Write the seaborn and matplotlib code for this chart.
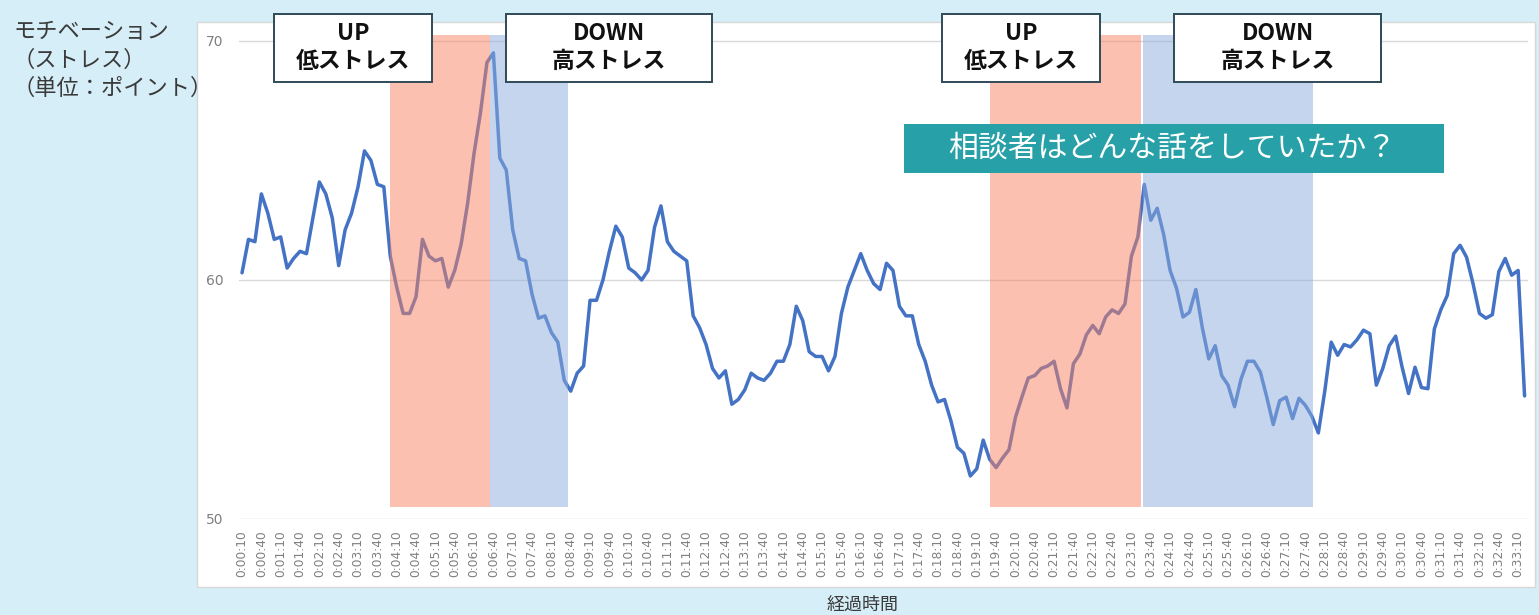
import numpy as np
import pandas as pd
import seaborn as sns
import matplotlib.pyplot as plt
from matplotlib.patches import Rectangle

# motivation (stress) score, one sample every 10 s from 0:00:10
score_00_08 = [60.3, 61.7, 61.6, 63.6, 62.8, 61.7, 61.8, 60.5, 60.9, 61.2,
               61.1, 62.6, 64.1, 63.6, 62.6, 60.6, 62.1, 62.8, 63.9, 65.4,
               65.0, 64.0, 63.9, 61.0, 59.7, 58.6, 58.6, 59.3, 61.7, 61.0,
               60.8, 60.9, 59.7, 60.4, 61.5, 63.2, 65.3, 67.0, 69.1, 69.5,
               65.1, 64.6, 62.1, 60.9, 60.8, 59.4, 58.4, 58.5, 57.8, 57.4]
score_08_16 = [55.8, 55.35, 56.1, 56.4, 59.15, 59.15, 60.0, 61.2, 62.25, 61.8,
               60.5, 60.3, 60.0, 60.4, 62.2, 63.1, 61.6, 61.2, 61.0, 60.8,
               58.5, 58.0, 57.3, 56.3, 55.9, 56.2, 54.8, 55.0, 55.4, 56.1,
               55.9, 55.8, 56.1, 56.6, 56.6, 57.3, 58.9, 58.3, 57.0, 56.8,
               56.8, 56.2, 56.8, 58.6, 59.7, 60.4, 61.1, 60.4, 59.85, 59.6]
score_16_25 = [60.7, 60.4, 58.9, 58.5, 58.5, 57.3, 56.6, 55.6, 54.9, 55.0,
               54.1, 53.0, 52.75, 51.8, 52.1, 53.3, 52.5, 52.15, 52.55, 52.9,
               54.25, 55.1, 55.9, 56.0, 56.3, 56.4, 56.6, 55.45, 54.65, 56.5,
               56.9, 57.7, 58.1, 57.75, 58.45, 58.75, 58.6, 59.0, 61.0, 61.8,
               64.0, 62.5, 63.0, 61.9, 60.4, 59.65, 58.45, 58.65, 59.6, 58.0]
score_25_33 = [56.7, 57.25, 56.0, 55.6, 54.7, 55.85, 56.6, 56.6, 56.15, 55.1,
               53.95, 54.95, 55.1, 54.2, 55.05, 54.75, 54.3, 53.6, 55.35, 57.4,
               56.85, 57.3, 57.2, 57.5, 57.9, 57.75, 55.6, 56.3, 57.25, 57.65,
               56.35, 55.25, 56.35, 55.5, 55.45, 57.95, 58.75, 59.35, 61.1, 61.45,
               60.95, 59.85, 58.6, 58.4, 58.55, 60.35, 60.9, 60.2, 60.4, 55.15]

# UP / DOWN phases (sample index range)
up_phases = [(23.0, 38.4), (116.1, 139.55)]
down_phases = [(38.4, 50.6), (139.75, 166.1)]
phase_low, phase_high = 50.5, 70.25

y_ticks = [50, 60, 70]
box_texts = ["UP\n低ストレス", "DOWN\n高ストレス", "UP\n低ストレス", "DOWN\n高ストレス"]
question = "相談者はどんな話をしていたか？"
ylabel_lines = ["モチベーション", "（ストレス）", "（単位：ポイント）"]

score = score_00_08 + score_08_16 + score_16_25 + score_25_33
seconds = np.arange(10, 10 * len(score) + 1, 10)
labels = [f"{s // 3600}:{(s // 60) % 60:02d}:{s % 60:02d}" for s in seconds]
df = pd.DataFrame({"idx": np.arange(len(score)), "score": score})

sns.set_theme(style="white")
plt.rcParams['font.family'] = ['Noto Sans CJK JP', 'DejaVu Sans']

W, H = 1539, 615
fig = plt.figure(figsize=(W / 100, H / 100), dpi=100)
fig.patch.set_facecolor('#D6EEF7')


def fx(px):
    return px / W


def fy(py):
    return 1 - py / H


# white chart area
fig.add_artist(Rectangle((fx(197), fy(587)), fx(1535) - fx(197), fy(22) - fy(587),
                         transform=fig.transFigure, facecolor='white',
                         edgecolor='#D8D8D8', lw=1, zorder=-5))

ax = fig.add_axes([fx(238.8), fy(519), fx(1527.8) - fx(238.8), fy(31.4) - fy(519)])
ax.patch.set_visible(False)

sns.lineplot(data=df, x="idx", y="score", ax=ax, color='#4472C4', lw=2.5, zorder=3)

for a, b in up_phases:
    ax.fill_between([a, b], phase_low, phase_high, color='#F98262', alpha=0.5, lw=0, zorder=4)
for a, b in down_phases:
    ax.fill_between([a, b], phase_low, phase_high, color='#8CADDD', alpha=0.5, lw=0, zorder=4)

for v in y_ticks:
    ax.axhline(v, color='#D9D9D9', lw=1, zorder=1)

ax.set_xlim(-0.5, len(score) - 0.5)
ax.set_ylim(50, 70.4)
ax.set_yticks(y_ticks)
ax.set_yticklabels([str(v) for v in y_ticks], color='#7F7F7F', fontsize=10,
                   family=['DejaVu Sans'])
tick_idx = df["idx"][::3]
ax.set_xticks(tick_idx)
ax.set_xticklabels([labels[i] for i in tick_idx], rotation=90, color='#808080',
                   fontsize=8.8, family=['DejaVu Sans'])
ax.tick_params(axis='y', length=0, pad=11)
ax.tick_params(axis='x', length=0, pad=8)
ax.set_xlabel("")
ax.set_ylabel("")
for s in ax.spines.values():
    s.set_visible(False)

# y label (top left)
for k, line in enumerate(ylabel_lines):
    fig.text(fx(13), fy(32 + 28 * k), line, fontsize=16, color='#3A3A3A',
             ha='left', va='center')

fig.text(fx(863), fy(605), "経過時間", fontsize=13, color='#3A3A3A',
         ha='center', va='center')

# UP / DOWN callout boxes
boxes = [(274, 432), (506, 712), (942, 1100), (1174, 1381)]
for (x0, x1), txt in zip(boxes, box_texts):
    fig.add_artist(Rectangle((fx(x0), fy(82)), fx(x1) - fx(x0), fy(14) - fy(82),
                             transform=fig.transFigure, facecolor='white',
                             edgecolor='#2F4A57', lw=1.4, zorder=10))
    top, bottom = txt.split("\n")
    fig.text(fx((x0 + x1) / 2), fy(33), top, fontsize=16.5, fontweight='bold',
             ha='center', va='center', color='#111111', zorder=11)
    fig.text(fx((x0 + x1) / 2), fy(61), bottom, fontsize=16.5, fontweight='bold',
             ha='center', va='center', color='#111111', zorder=11)

# question banner
fig.add_artist(Rectangle((fx(904), fy(173)), fx(1444) - fx(904), fy(124) - fy(173),
                         transform=fig.transFigure, facecolor='#27A0A8',
                         edgecolor='none', zorder=10))
fig.text(fx(1172), fy(148), question, fontsize=21.5, color='white',
         ha='center', va='center', zorder=11)

fig.savefig("out.png", dpi=100, facecolor=fig.get_facecolor())
